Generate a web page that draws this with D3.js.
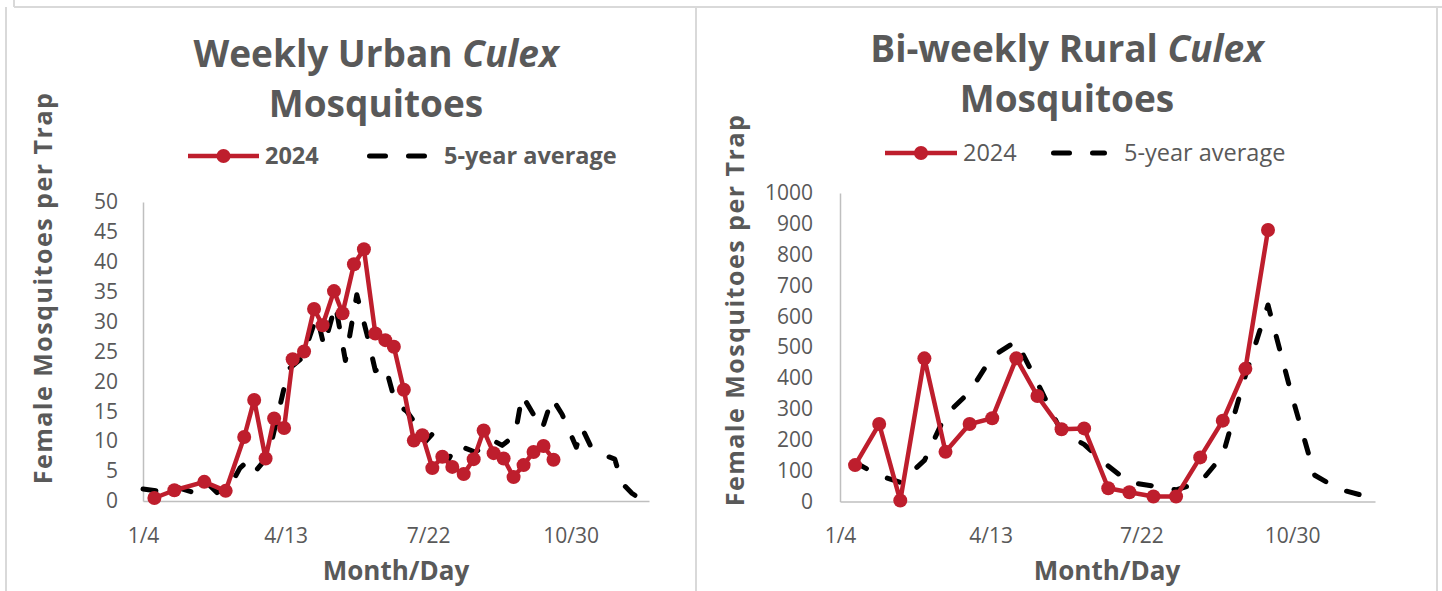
<!DOCTYPE html>
<html lang="en">
<head>
<meta charset="UTF-8">
<title>Culex Mosquitoes</title>
<script src="https://cdn.jsdelivr.net/npm/d3@7"></script>
<style>
    body { margin: 0; background: #fff; }
    text { font-family: "Open Sans", sans-serif; fill: #595959; }
    .axis path { stroke: #BFBFBF; stroke-width: 1.5; }
    .axis text { font-size: 21px; fill: #595959; font-family: "Open Sans", sans-serif; }
</style>
</head>
<body>
<script>
    var w = 1442, h = 591;
    var red = "#BE1E2D";

    // urban chart (weekly)
    var urbanDates = ["1/12", "1/26", "2/16", "3/2", "3/15", "3/22", "3/30", "4/5", "4/12", "4/18",
        "4/26", "5/3", "5/9", "5/17", "5/23", "5/31", "6/7", "6/15", "6/22", "6/28",
        "7/5", "7/12", "7/18", "7/25", "8/1", "8/8", "8/16", "8/23", "8/30", "9/6",
        "9/13", "9/20", "9/27", "10/4", "10/11", "10/18"];
    var urban2024 = [0.5, 1.8, 3.2, 1.7, 10.7, 16.9, 7.1, 13.8, 12.2, 23.7,
        25.0, 32.1, 29.4, 35.1, 31.4, 39.6, 42.1, 28.0, 26.9, 25.8,
        18.6, 10.1, 11.0, 5.5, 7.4, 5.7, 4.5, 7.0, 11.8, 8.0,
        7.1, 4.0, 6.0, 8.2, 9.2, 6.9];
    var urbanAvgDates = ["1/4", "1/16", "1/29", "2/10", "2/19", "2/25", "3/5", "3/12", "3/18", "3/23",
        "4/1", "4/15", "4/25", "5/5", "5/10", "5/18", "5/25", "6/2", "6/9", "6/15",
        "6/22", "6/29", "7/7", "7/13", "7/20", "7/25", "8/5", "8/11", "8/24", "8/30",
        "9/5", "9/12", "9/21", "9/26", "10/10", "10/17", "10/24", "11/3", "11/7", "11/13",
        "11/19", "11/30", "12/5", "12/12", "12/17"];
    var urbanAvg = [2.0, 1.6, 2.2, 1.3, 2.8, 1.4, 2.5, 5.5, 6.8, 5.0,
        7.6, 22.0, 24.0, 31.0, 25.9, 32.8, 23.5, 34.5, 28.0, 21.8,
        22.6, 16.5, 15.0, 13.0, 9.9, 11.2, 6.8, 9.4, 8.2, 9.0,
        10.2, 9.3, 11.0, 17.7, 12.0, 17.2, 14.5, 9.0, 12.2, 9.2,
        8.0, 7.0, 3.0, 1.3, 0.5];

    // rural chart (bi-weekly)
    var ruralDates = ["1/14", "1/30", "2/13", "2/29", "3/14", "3/30", "4/14", "4/30", "5/14", "5/30",
        "6/14", "6/30", "7/14", "7/30", "8/14", "8/30", "9/14", "9/29", "10/14"];
    var rural2024 = [118, 251, 3, 464, 161, 251, 270, 464, 342, 234,
        237, 43, 30, 16, 16, 143, 262, 430, 880];
    var ruralAvgDates = ["1/14", "1/30", "2/13", "2/29", "3/14", "3/30", "4/14", "4/30", "5/14", "5/30",
        "6/14", "6/30", "7/14", "7/30", "8/14", "8/30", "9/14", "9/29", "10/14", "10/30",
        "11/14", "11/30", "12/14"];
    var ruralAvg = [127, 84, 62, 133, 280, 355, 470, 520, 385, 225,
        185, 115, 62, 50, 38, 62, 150, 408, 637, 340,
        85, 40, 22];

    var xTicks = ["1/4", "4/13", "7/22", "10/30"];
    var xStart = "1/4", xEnd = "12/24";
    var urbanTicks = d3.range(0, 51, 5);
    var ruralTicks = d3.range(0, 1001, 100);

    var parse = function (s) { return d3.timeParse("%m/%d/%Y")(s + "/2024"); };

    var svg = d3.select("body").append("svg")
        .attr("width", w)
        .attr("height", h);

    // panel borders
    var border = "#D9D9D9";
    svg.append("line").attr("x1", 14).attr("x2", w).attr("y1", 7).attr("y2", 7)
        .attr("stroke", border).attr("stroke-width", 2);
    svg.append("line").attr("x1", 14).attr("x2", 14).attr("y1", 0).attr("y2", 7)
        .attr("stroke", border).attr("stroke-width", 2);
    [6, 696, 1437].forEach(function (x) {
        svg.append("line").attr("x1", x).attr("x2", x).attr("y1", 7).attr("y2", h)
            .attr("stroke", border).attr("stroke-width", 2);
    });

    function drawChart(o) {
        var g = svg.append("g");

        var x = d3.scaleTime()
            .domain([parse(xStart), parse(xEnd)])
            .range([o.left, o.right]);
        var y = d3.scaleLinear()
            .domain([0, o.max])
            .range([o.bottom, o.top]);

        g.append("g")
            .attr("class", "axis")
            .attr("transform", "translate(0," + o.bottom + ")")
            .call(d3.axisBottom(x)
                .tickValues(xTicks.map(parse))
                .tickFormat(d3.timeFormat("%-m/%-d"))
                .tickSize(0).tickSizeOuter(0).tickPadding(27));

        g.append("g")
            .attr("class", "axis")
            .attr("transform", "translate(" + o.left + ",0)")
            .call(d3.axisLeft(y)
                .tickValues(o.ticks)
                .tickFormat(d3.format("d"))
                .tickSize(0).tickSizeOuter(0).tickPadding(o.ypad));

        g.selectAll(".axis text").attr("font-size", null).style("font-size", "21px");

        var line = d3.line()
            .x(function (d) { return x(parse(d[0])); })
            .y(function (d) { return y(d[1]); });

        g.append("path")
            .datum(d3.zip(o.avgDates, o.avg))
            .attr("d", line)
            .attr("fill", "none")
            .attr("stroke", "#000")
            .attr("stroke-width", 5)
            .attr("stroke-linecap", "round")
            .attr("stroke-linejoin", "round")
            .attr("stroke-dasharray", "13,23");

        var pts = d3.zip(o.dates, o.vals);
        g.append("path")
            .datum(pts)
            .attr("d", line)
            .attr("fill", "none")
            .attr("stroke", red)
            .attr("stroke-width", 4.5)
            .attr("stroke-linejoin", "round");

        g.selectAll("circle.pt")
            .data(pts)
            .enter()
            .append("circle")
            .attr("class", "pt")
            .attr("cx", function (d) { return x(parse(d[0])); })
            .attr("cy", function (d) { return y(d[1]); })
            .attr("r", 7)
            .attr("fill", red);

        // title
        var t = g.append("text")
            .attr("text-anchor", "middle")
            .attr("font-size", "37px")
            .attr("font-weight", 700);
        t.append("tspan").attr("x", o.cx).attr("y", o.titleY).text(o.title + " ");
        t.append("tspan").attr("font-style", "italic").text("Culex");
        t.append("tspan").attr("x", o.cx).attr("y", o.titleY + 50).text("Mosquitoes");

        // legend
        var ly = o.legY;
        g.append("line").attr("x1", o.leg[0]).attr("x2", o.leg[1]).attr("y1", ly).attr("y2", ly)
            .attr("stroke", red).attr("stroke-width", 4.5);
        g.append("circle").attr("cx", (o.leg[0] + o.leg[1]) / 2).attr("cy", ly).attr("r", 7).attr("fill", red);
        g.append("text").attr("x", o.leg[1] + 6).attr("y", ly + 8)
            .attr("font-size", "23.5px").attr("font-weight", o.legBold ? 700 : 400).text("2024");
        g.append("line").attr("x1", o.leg[2] + 2.5).attr("x2", o.leg[3] - 2.5).attr("y1", ly).attr("y2", ly)
            .attr("stroke", "#000").attr("stroke-width", 5)
            .attr("stroke-linecap", "round").attr("stroke-dasharray", "16,23");
        g.append("text").attr("x", o.leg[3] + 17).attr("y", ly + 8)
            .attr("font-size", "23.5px").attr("font-weight", o.legBold ? 700 : 400).text("5-year average");

        // axis titles
        g.append("text")
            .attr("x", o.xTitleX).attr("y", 580)
            .attr("text-anchor", "middle")
            .attr("font-size", "26px").attr("font-weight", 700)
            .text("Month/Day");
        g.append("text")
            .attr("transform", "translate(" + o.yTitleX + "," + o.yTitleY + ") rotate(-90)")
            .attr("text-anchor", "middle")
            .attr("font-size", "25px").attr("font-weight", 700)
            .attr("letter-spacing", "1.5px")
            .text("Female Mosquitoes per Trap");
    }

    drawChart({
        left: 143, right: 649, top: 202, bottom: 501, max: 50, ticks: urbanTicks, ypad: 25,
        dates: urbanDates, vals: urban2024, avgDates: urbanAvgDates, avg: urbanAvg,
        title: "Weekly Urban", cx: 376, titleY: 67,
        legY: 156, leg: [188, 259, 367, 427], legBold: true,
        xTitleX: 396, yTitleX: 52, yTitleY: 288
    });

    drawChart({
        left: 840, right: 1375, top: 193, bottom: 501.5, max: 1000, ticks: ruralTicks, ypad: 27,
        dates: ruralDates, vals: rural2024, avgDates: ruralAvgDates, avg: ruralAvg,
        title: "Bi-weekly Rural", cx: 1067, titleY: 62,
        legY: 153, leg: [885, 957, 1051, 1107], legBold: false,
        xTitleX: 1107, yTitleX: 744, yTitleY: 310
    });
</script>
</body>
</html>
